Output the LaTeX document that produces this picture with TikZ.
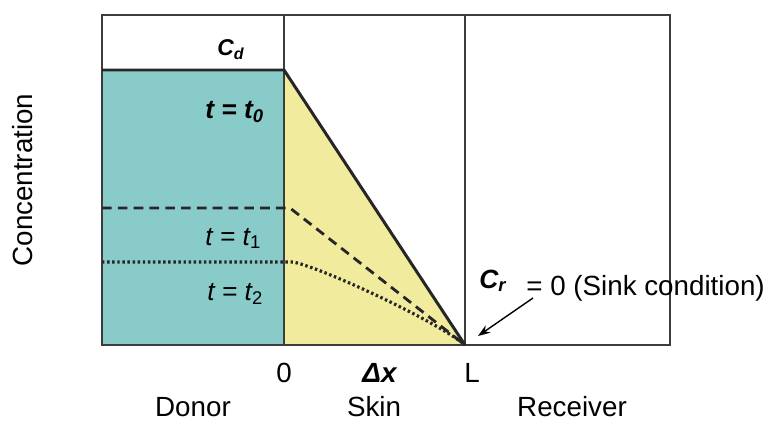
\documentclass[tikz,border=0pt]{standalone}
\usepackage{fontspec}
\setmainfont{Liberation Sans}
\usetikzlibrary{arrows.meta, positioning, calc}
\definecolor{donorteal}{RGB}{137,203,201}
\definecolor{skinyellow}{RGB}{241,235,158}
\definecolor{boxgray}{RGB}{60,60,60}

\begin{document}
\begin{tikzpicture}[
    x=0.02cm, y=-0.02cm,
    frame/.style={draw=boxgray, line width=1.1pt},
    profile/.style={draw=black!85, line width=1.7pt},
    profile_dash/.style={draw=black!85, line width=1.6pt, dash pattern=on 5.5pt off 3.5pt},
    profile_dot/.style={draw=black!85, line width=1.8pt, dash pattern=on 1.4pt off 1.5pt},
    label/.style={font=\fontsize{15.8}{19}\selectfont, inner sep=0pt, anchor=base},
    sublabel/.style={font=\fontsize{15}{18}\selectfont\itshape, inner sep=0pt, anchor=base west},
    conc/.style={font=\fontsize{#1}{#1}\selectfont\bfseries\itshape, inner sep=0pt, anchor=base west},
    pointer/.style={-{Stealth[length=7pt, width=5pt]}, line width=0.8pt}
]
\useasboundingbox (0,0) rectangle (768,423);

% Compartments
\fill[donorteal] (102,70) rectangle (284,345);
\fill[skinyellow] (284,70) -- (465,345) -- (284,345) -- cycle;
\draw[frame] (102,15) rectangle (670,345);
\draw[frame] (284,15) -- (284,345);
\draw[frame] (465,15) -- (465,345);

% Concentration profiles
\coordinate (D0) at (102,70);
\coordinate (S0) at (284,70);
\coordinate (D1) at (102,208);
\coordinate (S1) at (290,208);
\coordinate (D2) at (102,262);
\coordinate (S2) at (293,262);
\coordinate (L0) at (465,345);

\draw[profile] (D0) -- (S0) -- (L0);
\draw[profile_dash] (D1) -- (S1) -- (L0);
\draw[profile_dot] (D2) -- (S2) .. controls (320,267) and (435,320) .. (L0);

% Labels in the donor
\node[conc=13] (Cd) at (217,55) {C\textsubscript{d}};
\node[sublabel] (T0) at (205,118) {\textbf{t = t\textsubscript{0}}};
\node[sublabel] (T1) at (205,245) {t = t\textsubscript{\upshape 1}};
\node[sublabel] (T2) at (207,300) {t = t\textsubscript{\upshape 2}};

% Sink condition
\node[conc=15] (Cr) at (479,288) {C\textsubscript{r}};
\node[label, anchor=base west] (sink) at (526,295) {= 0 (Sink condition)};
\coordinate (tail) at (533,298);
\coordinate (tip) at (478,336);
\draw[pointer] (tail) -- (tip);

% Axis labels
\node[label] (zero) at (284,382) {0};
\node[label] (dx) at (380,382) {\textbf{\textit{Δx}}};
\node[label] (L) at (472,382) {L};
\node[label] (donor) at (193,416) {Donor};
\node[label] (skin) at (374,416) {Skin};
\node[label] (receiver) at (572,416) {Receiver};
\node[label, rotate=90, anchor=center] (axis) at (23,180) {Concentration};

\end{tikzpicture}
\end{document}
